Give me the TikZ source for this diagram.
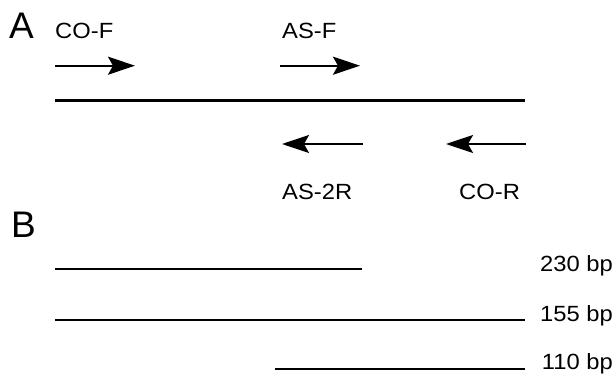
\documentclass[tikz,border=0pt]{standalone}
\usepackage{fontspec}
\setmainfont{Liberation Sans}
\newfontfamily\labfont[FakeStretch=1.08]{Liberation Sans}
\usetikzlibrary{arrows.meta}
\tikzset{
  x=1pt, y=-1pt,
  panel/.style={inner sep=0pt, anchor=base west, font=\fontsize{37}{37}\selectfont},
  lab/.style={inner sep=0pt, anchor=base west, font=\labfont\fontsize{22}{22}\selectfont},
  bplab/.style={inner sep=0pt, anchor=base east, font=\labfont\fontsize{22}{22}\selectfont},
  primer/.style={line width=2.2pt, -{Stealth[length=27pt,width=18pt,inset=5pt]}},
  strand/.style={line width=3pt},
  frag/.style={line width=2.7pt}
}
\begin{document}
\begin{tikzpicture}
\useasboundingbox (0,0) rectangle (616,377);
% panel letters
\node[panel] (A) at (9,39) {A};
\node[panel] (B) at (11,237) {B};
% primer labels
\node[lab] (cof) at (55,39) {CO-F};
\node[lab] (asf) at (282,39) {AS-F};
\node[lab] (as2r) at (282,200) {AS-2R};
\node[lab] (cor) at (459,200) {CO-R};
% primer arrows
\coordinate (cofs) at (55,65.7); \coordinate (cofe) at (135,65.7);
\coordinate (asfs) at (280,65.7); \coordinate (asfe) at (360,65.7);
\coordinate (as2rs) at (363,144); \coordinate (as2re) at (282,144);
\coordinate (cors) at (526,144); \coordinate (core) at (446,144);
\draw[primer] (cofs) -- (cofe);
\draw[primer] (asfs) -- (asfe);
\draw[primer] (as2rs) -- (as2re);
\draw[primer] (cors) -- (core);
% template strand
\coordinate (ts) at (55,100.7); \coordinate (te) at (525,100.7);
\draw[strand] (ts) -- (te);
% fragments
\coordinate (f1s) at (55,269); \coordinate (f1e) at (362,269);
\coordinate (f2s) at (55,320); \coordinate (f2e) at (525,320);
\coordinate (f3s) at (275,369); \coordinate (f3e) at (525,369);
\draw[frag] (f1s) -- (f1e);
\draw[frag] (f2s) -- (f2e);
\draw[frag] (f3s) -- (f3e);
\node[bplab] (bp230) at (613,271) {230 bp};
\node[bplab] (bp155) at (613,321) {155 bp};
\node[bplab] (bp110) at (613,369.5) {110 bp};
\end{tikzpicture}
\end{document}
